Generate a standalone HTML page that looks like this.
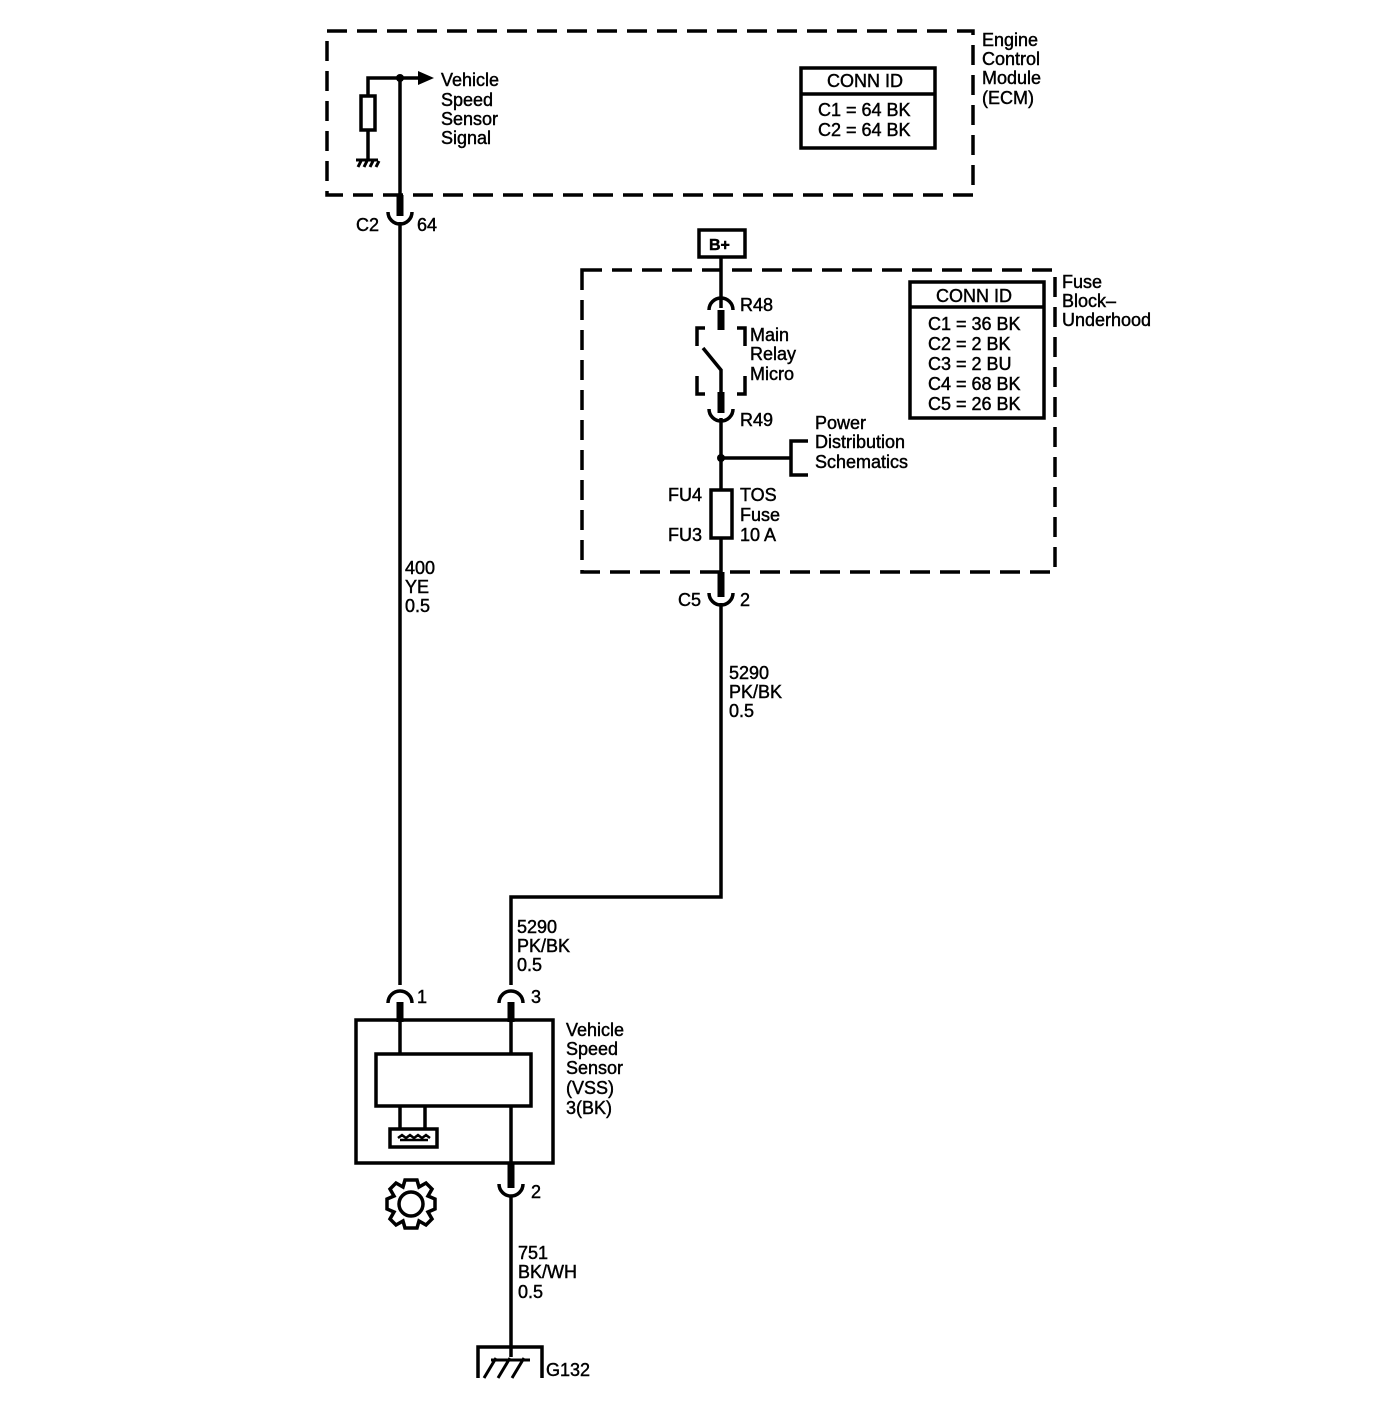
<!DOCTYPE html>
<html><head><style>body{margin:0;background:#fff}svg{display:block}text{font-family:"Liberation Sans",Arial,sans-serif;font-size:18px;fill:#000;stroke:#000;stroke-width:0.45px}</style></head>
<body>
<svg width="1376" height="1418" viewBox="0 0 1376 1418" xmlns="http://www.w3.org/2000/svg">
<g fill="none" stroke="#000" stroke-width="3.5">
<rect x="327" y="31" width="646" height="164" stroke-dasharray="20,10" stroke-width="3.5"/>
<rect x="582" y="270" width="473" height="302" stroke-dasharray="20,10" stroke-width="3.5"/>
<polyline points="368,96 368,78 420,78"/>
<rect x="361" y="96" width="14" height="34"/>
<line x1="368" y1="130" x2="368" y2="160"/>
<line x1="400" y1="78" x2="400" y2="215"/>
<rect x="801" y="68" width="134" height="80"/>
<line x1="801" y1="94" x2="935" y2="94"/>
<rect x="910" y="282" width="134" height="136"/>
<line x1="910" y1="307" x2="1044" y2="307"/>
<path d="M388,212 A12,12 0 0 0 412,212"/>
<line x1="400" y1="222" x2="400" y2="985"/>
<rect x="699" y="230" width="46" height="27"/>
<line x1="721" y1="257" x2="721" y2="308"/>
<path d="M709,310 A12,12 0 0 1 733,310"/>
<polyline points="705,328 697,328 697,346"/>
<polyline points="737,328 745,328 745,346"/>
<polyline points="697,376 697,394 705,394"/>
<polyline points="745,376 745,394 737,394"/>
<line x1="721" y1="322" x2="721" y2="330"/>
<polyline points="703,348 721,370 721,398"/>
<path d="M709,409 A12,12 0 0 0 733,409"/>
<line x1="721" y1="418" x2="721" y2="490"/>
<line x1="721" y1="458" x2="791" y2="458"/>
<polyline points="808,441 791,441 791,475 808,475"/>
<rect x="711" y="490" width="21" height="48"/>
<line x1="721" y1="538" x2="721" y2="575"/>
<path d="M709,593 A12,12 0 0 0 733,593"/>
<polyline points="721,603 721,897 511,897 511,985"/>
<path d="M388,1003 A12,12 0 0 1 412,1003"/>
<path d="M499,1003 A12,12 0 0 1 523,1003"/>
<rect x="356" y="1020" width="197" height="143"/>
<rect x="376" y="1054" width="155" height="52"/>
<line x1="400" y1="1020" x2="400" y2="1054"/>
<line x1="511" y1="1020" x2="511" y2="1054"/>
<line x1="511" y1="1106" x2="511" y2="1163"/>
<line x1="400" y1="1106" x2="400" y2="1129"/>
<line x1="425" y1="1106" x2="425" y2="1129"/>
<rect x="390" y="1129" width="47" height="18"/>
<path d="M499,1184 A12,12 0 0 0 523,1184"/>
<line x1="511" y1="1195" x2="511" y2="1357"/>
<polyline points="478,1378 478,1347 542,1347 542,1378"/>
<circle cx="411" cy="1204" r="12"/>
</g>
<g stroke="#000" stroke-width="7">
<line x1="400" y1="195" x2="400" y2="216"/>
<line x1="721" y1="310" x2="721" y2="330"/>
<line x1="721" y1="392" x2="721" y2="413"/>
<line x1="721" y1="572" x2="721" y2="597"/>
<line x1="400" y1="1002" x2="400" y2="1022"/>
<line x1="511" y1="1002" x2="511" y2="1022"/>
<line x1="511" y1="1163" x2="511" y2="1188"/>
</g>
<g fill="#000">
<circle cx="400" cy="78" r="4"/>
<circle cx="721" cy="458" r="4"/>
<polygon points="418,71 434,78 418,85"/>
</g>
<g stroke="#000" stroke-width="3" fill="none">
<line x1="356" y1="160" x2="378" y2="160"/>
<line x1="358" y1="167" x2="361" y2="161"/><line x1="364" y1="167" x2="367" y2="161"/><line x1="370" y1="167" x2="373" y2="161"/><line x1="376" y1="167" x2="379" y2="161"/>
<line x1="484" y1="1378" x2="496" y2="1358"/><line x1="498" y1="1378" x2="510" y2="1358"/><line x1="512" y1="1378" x2="524" y2="1358"/>
<line x1="491" y1="1360" x2="530" y2="1360"/>
<path d="M398,1138 l4,-3 4,3 4,-3 4,3 4,-3 4,3 4,-3 4,3" stroke-width="2.5"/>
<line x1="400" y1="1140" x2="428" y2="1140" stroke-width="2.5"/>
<path d="M405,1180 h12 l2,7 7,-4 6,6 -4,7 7,3 v10 l-7,3 4,7 -6,6 -7,-4 -2,7 h-12 l-2,-7 -7,4 -6,-6 4,-7 -7,-3 v-10 l7,-3 -4,-7 6,-6 7,4 z" stroke-width="3.5"/>
</g>
<text x="441" y="86">Vehicle</text><text x="441" y="106">Speed</text><text x="441" y="125">Sensor</text><text x="441" y="144">Signal</text>
<text x="827" y="87">CONN ID</text>
<text x="818" y="116">C1 = 64 BK</text><text x="818" y="136">C2 = 64 BK</text>
<text x="982" y="46">Engine</text><text x="982" y="65">Control</text><text x="982" y="84">Module</text><text x="982" y="104">(ECM)</text>
<text x="356" y="231">C2</text><text x="417" y="231">64</text>
<text x="709" y="250" font-weight="bold" style="font-size:16px">B+</text>
<text x="740" y="311">R48</text>
<text x="750" y="341">Main</text><text x="750" y="360">Relay</text><text x="750" y="380">Micro</text>
<text x="740" y="426">R49</text>
<text x="815" y="429">Power</text><text x="815" y="448">Distribution</text><text x="815" y="468">Schematics</text>
<text x="668" y="501">FU4</text><text x="668" y="541">FU3</text>
<text x="740" y="501">TOS</text><text x="740" y="521">Fuse</text><text x="740" y="541">10 A</text>
<text x="936" y="302">CONN ID</text>
<text x="928" y="330">C1 = 36 BK</text><text x="928" y="350">C2 = 2 BK</text><text x="928" y="370">C3 = 2 BU</text><text x="928" y="390">C4 = 68 BK</text><text x="928" y="410">C5 = 26 BK</text>
<text x="1062" y="288">Fuse</text><text x="1062" y="307">Block–</text><text x="1062" y="326">Underhood</text>
<text x="678" y="606">C5</text><text x="740" y="606">2</text>
<text x="729" y="679">5290</text><text x="729" y="698">PK/BK</text><text x="729" y="717">0.5</text>
<text x="405" y="574">400</text><text x="405" y="593">YE</text><text x="405" y="612">0.5</text>
<text x="517" y="933">5290</text><text x="517" y="952">PK/BK</text><text x="517" y="971">0.5</text>
<text x="417" y="1003">1</text><text x="531" y="1003">3</text>
<text x="566" y="1036">Vehicle</text><text x="566" y="1055">Speed</text><text x="566" y="1074">Sensor</text><text x="566" y="1094">(VSS)</text><text x="566" y="1114">3(BK)</text>
<text x="531" y="1198">2</text>
<text x="518" y="1259">751</text><text x="518" y="1278">BK/WH</text><text x="518" y="1298">0.5</text>
<text x="546" y="1376">G132</text>
</svg>
</body></html>
